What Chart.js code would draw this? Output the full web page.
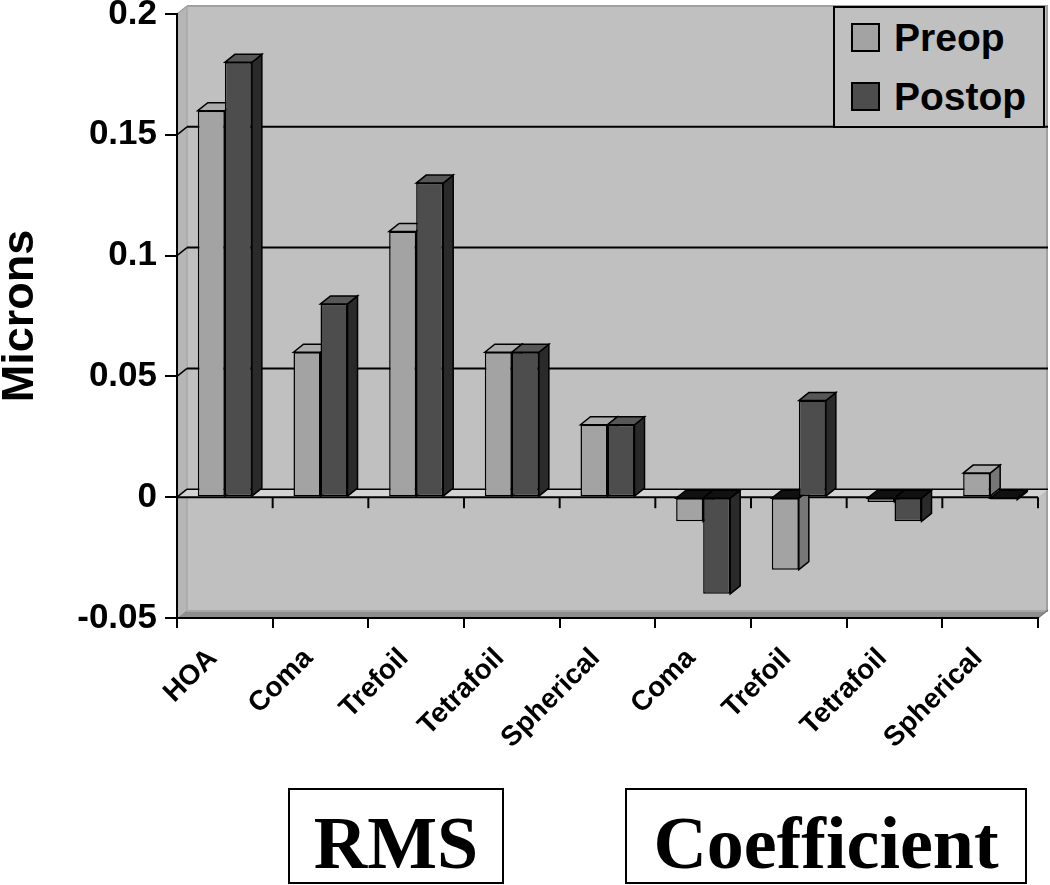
<!DOCTYPE html>
<html>
<head>
<meta charset="utf-8">
<script src="https://cdn.jsdelivr.net/npm/chart.js@4.4.1/dist/chart.umd.min.js"></script>
<style>
html,body{margin:0;padding:0;background:#fff;}
#wrap{position:relative;width:1050px;height:885px;overflow:hidden;background:#fff;}
#c{position:absolute;left:0;top:0;}
#legend{position:absolute;left:833px;top:6px;width:208px;height:118px;background:#c0c0c0;border:2px solid #000;font:bold 39px "Liberation Sans",Arial,sans-serif;color:#000;}
.row{height:59px;display:flex;align-items:center;}
.sw{width:25px;height:25px;border:2px solid #000;margin-left:16px;margin-right:14px;}
.grp{position:absolute;top:788px;height:96px;box-sizing:border-box;border:2px solid #000;font:bold 74px "Liberation Serif","Times New Roman",serif;text-align:center;line-height:74px;padding-top:16px;color:#000;white-space:nowrap;}
</style>
</head>
<body>
<div id="wrap">
<canvas id="c" width="1050" height="885"></canvas>
<div id="legend"></div>
</div>
<script>
// ---- data ----
const categories = ['HOA','Coma','Trefoil','Tetrafoil','Spherical','Coma','Trefoil','Tetrafoil','Spherical'];
const seriesNames = ['Preop','Postop'];
const preopValues  = [0.16, 0.06, 0.11, 0.06, 0.03, -0.01, -0.03, -0.002, 0.01];
const postopValues = [0.18, 0.08, 0.13, 0.06, 0.03, -0.04,  0.04, -0.01, -0.001];
const yTickLabels = ['-0.05','0','0.05','0.1','0.15','0.2'];
const groupNames = ['RMS','Coefficient'];
const axisTitle = 'Microns';

// ---- styling ----
const SANS = '"Liberation Sans", Arial, sans-serif';
const frontColors = ['#a3a3a3', '#4d4d4d'];
const sideColors  = ['#777777', '#2a2a2a'];
const topColors   = ['#acacac', '#575757'];
const DX = 10, DY = -8;

function poly(ctx, pts, fill, stroke, lw) {
  ctx.beginPath();
  ctx.moveTo(pts[0][0], pts[0][1]);
  for (let i = 1; i < pts.length; i++) ctx.lineTo(pts[i][0], pts[i][1]);
  ctx.closePath();
  if (fill) { ctx.fillStyle = fill; ctx.fill(); }
  if (stroke) { ctx.strokeStyle = stroke; ctx.lineWidth = lw || 1.5; ctx.lineJoin = 'miter'; ctx.stroke(); }
}
function line(ctx, x1, y1, x2, y2, color, lw) {
  ctx.beginPath(); ctx.moveTo(x1, y1); ctx.lineTo(x2, y2);
  ctx.strokeStyle = color; ctx.lineWidth = lw; ctx.stroke();
}

const threeD = {
  id: 'threeD',
  beforeDraw(chart) {
    const ctx = chart.ctx;
    const {left: L, right: R, top: T, bottom: B} = chart.chartArea;
    ctx.save();
    poly(ctx, [[L+DX, T+DY], [R+DX, T+DY], [R+DX, B+DY], [L+DX, B+DY]], '#c0c0c0');
    poly(ctx, [[L, T], [L+DX, T+DY], [L+DX, B+DY], [L, B]], '#b6b6b6');
    poly(ctx, [[L, B], [L+DX, B+DY], [R+DX, B+DY], [R, B]], '#8e8e8e');
    line(ctx, L+DX, B+DY+1, R+DX, B+DY+1, '#a8a8a8', 2);
    line(ctx, L, T, L+DX, T+DY, '#a0a0a0', 1.5);
    line(ctx, L+DX, T+DY, R+DX, T+DY, '#a0a0a0', 2);
    line(ctx, R+DX-1, T+DY, R+DX-1, B+DY, '#a0a0a0', 2);
    line(ctx, L+DX, T+DY, L+DX, B+DY, '#a8a8a8', 1.5);
    line(ctx, R, B, R+DX, B+DY, '#777', 1.5);
    ctx.restore();
  },
  beforeDatasetsDraw(chart) {
    const ctx = chart.ctx;
    const {left: L, right: R} = chart.chartArea;
    const ys = chart.scales.y;
    ctx.save();
    ys.ticks.forEach(t => {
      if (t.value <= ys.min + 1e-9 || t.value >= ys.max - 1e-9 || Math.abs(t.value) < 1e-9) return;
      const y = ys.getPixelForValue(t.value);
      line(ctx, L, y, L+DX, y+DY, '#000', 1.5);
      line(ctx, L+DX, y+DY, R+DX, y+DY, '#000', 2);
    });
    const y0 = ys.getPixelForValue(0);
    poly(ctx, [[L, y0], [L+DX, y0+DY], [R+DX, y0+DY], [R, y0]], '#d4d4d4');
    line(ctx, L+DX, y0+DY, R+DX, y0+DY, '#000', 1.5);
    line(ctx, L, y0, L+DX, y0+DY, '#000', 1.5);
    line(ctx, L, y0, R, y0, '#000', 2);
    const n = categories.length;
    for (let i = 1; i <= n; i++) {
      const xb = L + i * (R - L) / n;
      line(ctx, xb, y0, xb, y0 + 11, '#000', 2);
    }
    chart.data.datasets.forEach((ds, di) => {
      const meta = chart.getDatasetMeta(di);
      meta.data.forEach(el => {
        const l = el.x - el.width / 2, r = el.x + el.width / 2;
        const yv = el.y, yb = el.base;
        if (yv <= yb) {
          poly(ctx, [[r, yv], [r+DX, yv+DY], [r+DX, yb+DY], [r, yb]], sideColors[di], '#000', 1.5);
          poly(ctx, [[l, yv], [l+DX, yv+DY], [r+DX, yv+DY], [r, yv]], topColors[di], '#000', 1.5);
        } else {
          poly(ctx, [[r, yb], [r+DX, yb+DY], [r+DX, yv+DY], [r, yv]], sideColors[di], '#000', 1.5);
          poly(ctx, [[l, yb], [l+DX, yb+DY], [r+DX, yb+DY], [r, yb]], '#111', '#000', 1.5);
        }
      });
    });
    ctx.restore();
  }
};

const chart = new Chart(document.getElementById('c'), {
  type: 'bar',
  data: {
    labels: categories,
    datasets: [
      {label: seriesNames[0], data: preopValues, backgroundColor: frontColors[0]},
      {label: seriesNames[1], data: postopValues, backgroundColor: frontColors[1]}
    ]
  },
  options: {
    responsive: false,
    animation: false,
    devicePixelRatio: 1,
    layout: {padding: {left: 0, right: 12, top: 14, bottom: 0}},
    datasets: {
      bar: {
        categoryPercentage: 0.565,
        barPercentage: 1.0,
        borderColor: '#000',
        borderWidth: 1.5,
        borderSkipped: false
      }
    },
    plugins: {
      legend: {display: false},
      tooltip: {enabled: false}
    },
    scales: {
      x: {
        afterFit(s) { s.height = 267; s.paddingLeft = 0; s.paddingRight = 0; },
        grid: {offset: true, drawOnChartArea: false, color: '#000', lineWidth: 2, tickLength: 10},
        border: {display: true, color: '#000', width: 2},
        ticks: {
          autoSkip: false, minRotation: 45, maxRotation: 45,
          color: '#000', padding: 14, labelOffset: -12,
          font: {family: SANS, size: 28, weight: 'bold'}
        }
      },
      y: {
        min: -0.05, max: 0.2,
        afterFit(s) { s.width = 177; s.paddingTop = 0; s.paddingBottom = 0; },
        grid: {drawOnChartArea: false, color: '#000', lineWidth: 2, tickLength: 12},
        border: {display: true, color: '#000', width: 2},
        ticks: {
          stepSize: 0.05, color: '#000', padding: 8,
          font: {family: SANS, size: 35, weight: 'bold'},
          callback: (v, i) => yTickLabels[i]
        },
        title: {
          display: true, text: axisTitle, color: '#000',
          padding: {top: 0, bottom: 0},
          font: {family: SANS, size: 45, weight: 'bold', lineHeight: 0.9}
        }
      }
    }
  },
  plugins: [threeD]
});

const lg = document.getElementById('legend');
chart.data.datasets.forEach(ds => {
  const row = document.createElement('div'); row.className = 'row';
  const sw = document.createElement('div'); sw.className = 'sw'; sw.style.background = ds.backgroundColor;
  const tx = document.createElement('span'); tx.textContent = ds.label;
  row.appendChild(sw); row.appendChild(tx); lg.appendChild(row);
});

const wrap = document.getElementById('wrap');
const boxes = [{left: 288, width: 216}, {left: 625, width: 402}];
groupNames.forEach((g, i) => {
  const d = document.createElement('div'); d.className = 'grp';
  d.style.left = boxes[i].left + 'px'; d.style.width = boxes[i].width + 'px';
  d.textContent = g; wrap.appendChild(d);
});
</script>
</body>
</html>
